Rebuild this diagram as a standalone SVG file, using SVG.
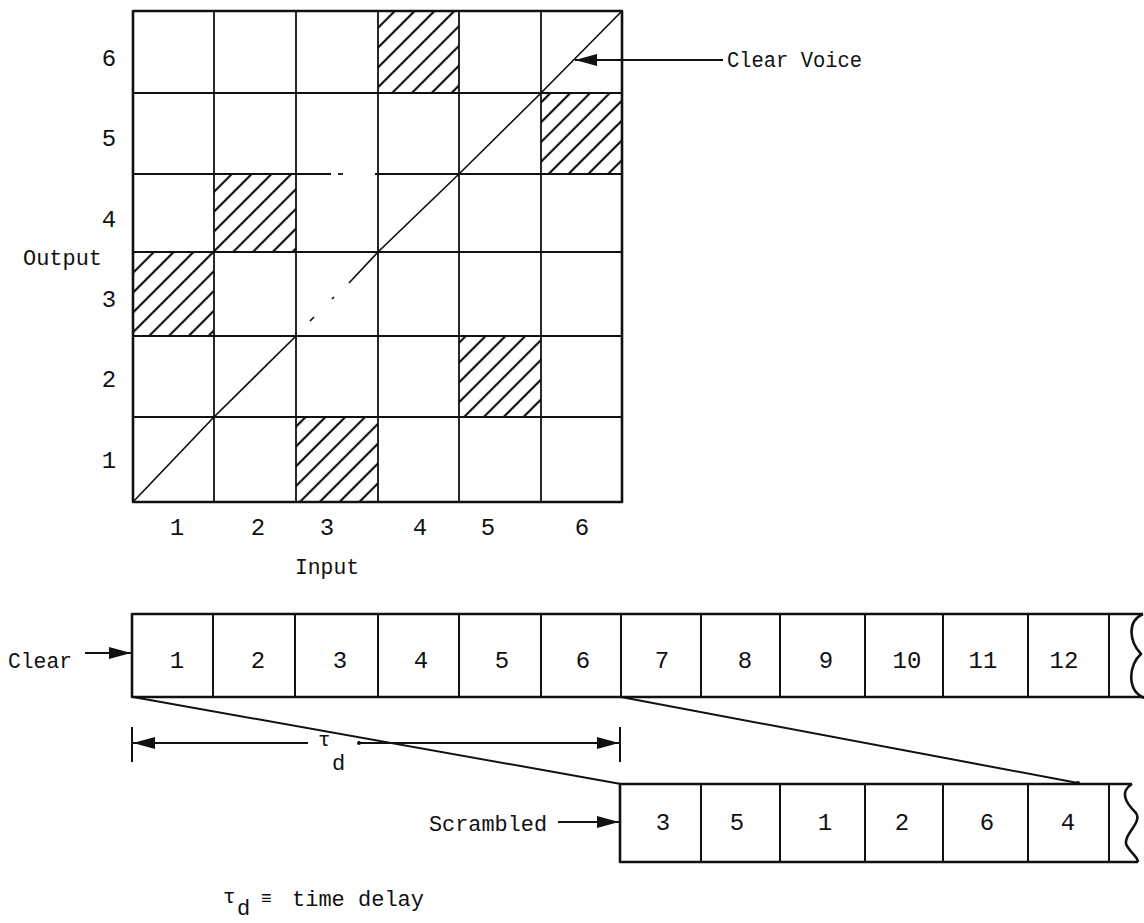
<svg xmlns="http://www.w3.org/2000/svg" width="1144" height="923" viewBox="0 0 1144 923">
  <style>
    text { font-family: "Liberation Mono", "DejaVu Sans Mono", monospace; font-size: 22px; fill: #111; }
    .mid { text-anchor: middle; font-size: 24px; }
    .frame { fill: none; stroke: #111; stroke-width: 2.6; stroke-linejoin: round; }
    .grid { fill: none; stroke: #111; stroke-width: 1.8; }
    .div { fill: none; stroke: #111; stroke-width: 2; }
    .wire { fill: none; stroke: #111; stroke-width: 2; }
    .thin { fill: none; stroke: #111; stroke-width: 1.7; }
  </style>
  <defs>
    <pattern id="hatch" width="14" height="14" patternUnits="userSpaceOnUse" patternTransform="rotate(45)">
      <line x1="7" y1="0" x2="7" y2="14" stroke="#111" stroke-width="2.2"/>
    </pattern>
    <marker id="head" viewBox="0 0 22 12" refX="22" refY="6" markerWidth="22" markerHeight="12" markerUnits="userSpaceOnUse" orient="auto-start-reverse">
      <path d="M0,0 L22,6 L0,12 Z" fill="#111"/>
    </marker>
  </defs>

  <!-- permutation matrix: input slot (column) to output slot (row) -->
  <g id="matrix">
    <g id="hatched-cells" fill="url(#hatch)">
      <rect x="378" y="11" width="81" height="82"/>
      <rect x="541" y="93" width="81" height="81"/>
      <rect x="214" y="174" width="82" height="78"/>
      <rect x="133" y="252" width="81" height="84"/>
      <rect x="459" y="336" width="82" height="81"/>
      <rect x="296" y="417" width="82" height="85"/>
    </g>
    <g id="grid-lines" class="grid">
      <line x1="214" y1="11" x2="214" y2="502"/>
      <line x1="296" y1="11" x2="296" y2="502"/>
      <line x1="378" y1="11" x2="378" y2="502"/>
      <line x1="459" y1="11" x2="459" y2="502"/>
      <line x1="541" y1="11" x2="541" y2="502"/>
      <line x1="133" y1="93" x2="622" y2="93"/>
      <line x1="133" y1="174" x2="331" y2="174"/>
      <line x1="338" y1="174" x2="343" y2="174"/>
      <line x1="375" y1="174" x2="622" y2="174"/>
      <line x1="133" y1="252" x2="622" y2="252"/>
      <line x1="133" y1="336" x2="622" y2="336"/>
      <line x1="133" y1="417" x2="622" y2="417"/>
    </g>
    <rect class="frame" x="133" y="11" width="489" height="491"/>
    <!-- identity (clear voice) diagonal -->
    <g id="clear-diagonal" class="thin">
      <polyline points="133,502 214,417 296,336"/>
      <line x1="310" y1="321" x2="314" y2="317"/>
      <line x1="332" y1="299" x2="334" y2="297"/>
      <polyline points="349,283 378,252 459,174 541,93 622,11"/>
    </g>
  </g>

  <g id="axis-labels">
    <text class="mid" x="109" y="66">6</text>
    <text class="mid" x="109" y="146">5</text>
    <text class="mid" x="109" y="227">4</text>
    <text x="23" y="265" textLength="79" lengthAdjust="spacingAndGlyphs">Output</text>
    <text class="mid" x="109" y="307">3</text>
    <text class="mid" x="109" y="387">2</text>
    <text class="mid" x="109" y="468">1</text>
    <text class="mid" x="177" y="535">1</text>
    <text class="mid" x="258" y="535">2</text>
    <text class="mid" x="327" y="535">3</text>
    <text class="mid" x="420" y="535">4</text>
    <text class="mid" x="488" y="535">5</text>
    <text class="mid" x="582" y="535">6</text>
    <text x="295" y="574" textLength="64" lengthAdjust="spacingAndGlyphs">Input</text>
  </g>

  <g id="clear-voice-label">
    <text x="727" y="67" textLength="135" lengthAdjust="spacingAndGlyphs">Clear Voice</text>
  </g>

  <!-- clear speech segments -->
  <g id="clear-strip">
    <path class="frame" d="M1143,614 L132,614 L132,697 L1144,697"/>
    <path class="frame" d="M1143,614 C1127,621 1129,641 1141,654 C1129,664 1126,690 1144,698"/>
    <g class="div">
      <line x1="213" y1="614" x2="213" y2="697"/>
      <line x1="295" y1="614" x2="295" y2="697"/>
      <line x1="378" y1="614" x2="378" y2="697"/>
      <line x1="459" y1="614" x2="459" y2="697"/>
      <line x1="541" y1="614" x2="541" y2="697"/>
      <line x1="621" y1="614" x2="621" y2="697"/>
      <line x1="701" y1="614" x2="701" y2="697"/>
      <line x1="780" y1="614" x2="780" y2="697"/>
      <line x1="865" y1="614" x2="865" y2="697"/>
      <line x1="943" y1="614" x2="943" y2="697"/>
      <line x1="1028" y1="614" x2="1028" y2="697"/>
      <line x1="1109" y1="614" x2="1109" y2="697"/>
    </g>
    <g>
      <text class="mid" x="177" y="668">1</text>
      <text class="mid" x="258" y="668">2</text>
      <text class="mid" x="340" y="668">3</text>
      <text class="mid" x="421" y="668">4</text>
      <text class="mid" x="502" y="668">5</text>
      <text class="mid" x="583" y="668">6</text>
      <text class="mid" x="662" y="668">7</text>
      <text class="mid" x="745" y="668">8</text>
      <text class="mid" x="826" y="668">9</text>
      <text class="mid" x="907" y="668">10</text>
      <text class="mid" x="983" y="668">11</text>
      <text class="mid" x="1064" y="668">12</text>
    </g>
    <text x="8" y="668" textLength="64" lengthAdjust="spacingAndGlyphs">Clear</text>
  </g>

  <!-- scrambled output segments -->
  <g id="scrambled-strip">
    <path class="frame" d="M1132,784 L620,784 L620,862 L1138,862"/>
    <path class="frame" d="M1132,784 C1119,792 1126,803 1136,813 C1143,823 1121,836 1127,846 C1131,853 1138,857 1138,862"/>
    <g class="div">
      <line x1="701" y1="784" x2="701" y2="862"/>
      <line x1="780" y1="784" x2="780" y2="862"/>
      <line x1="865" y1="784" x2="865" y2="862"/>
      <line x1="943" y1="784" x2="943" y2="862"/>
      <line x1="1028" y1="784" x2="1028" y2="862"/>
      <line x1="1109" y1="784" x2="1109" y2="862"/>
    </g>
    <text class="mid" x="663" y="830">3</text>
    <text class="mid" x="737" y="830">5</text>
    <text class="mid" x="825" y="830">1</text>
    <text class="mid" x="902" y="830">2</text>
    <text class="mid" x="987" y="830">6</text>
    <text class="mid" x="1068" y="830">4</text>
    <text x="429" y="831" textLength="118" lengthAdjust="spacingAndGlyphs">Scrambled</text>
  </g>

  <g id="connectors">
    <line class="wire" x1="723" y1="60" x2="575" y2="60" marker-end="url(#head)"/>
    <line class="wire" x1="85" y1="653" x2="131" y2="653" marker-end="url(#head)"/>
    <line class="wire" x1="558" y1="822" x2="619" y2="822" marker-end="url(#head)"/>
    <line class="wire" x1="133" y1="697" x2="621" y2="784"/>
    <line class="wire" x1="621" y1="697" x2="1078" y2="783"/>
    <circle cx="1078" cy="783" r="2" fill="#111"/>
    <!-- time-delay dimension -->
    <line class="wire" x1="132" y1="727" x2="132" y2="762"/>
    <line class="wire" x1="620" y1="727" x2="620" y2="762"/>
    <line class="wire" x1="308" y1="743" x2="133" y2="743" marker-end="url(#head)"/>
    <line class="wire" x1="359" y1="743" x2="619" y2="743" marker-end="url(#head)"/>
    <circle cx="359" cy="743" r="2" fill="#111"/>
  </g>

  <g id="delay-label">
    <text x="318" y="746" style="font-size:21px">τ</text>
    <text x="332" y="770" style="font-size:22px">d</text>
  </g>

  <g id="legend">
    <text x="223" y="903" style="font-size:21px">τ</text>
    <text x="237" y="915" style="font-size:22px">d</text>
    <text x="261" y="904" style="font-size:18px">≡</text>
    <text x="292" y="906" textLength="132" lengthAdjust="spacingAndGlyphs">time delay</text>
  </g>
</svg>
